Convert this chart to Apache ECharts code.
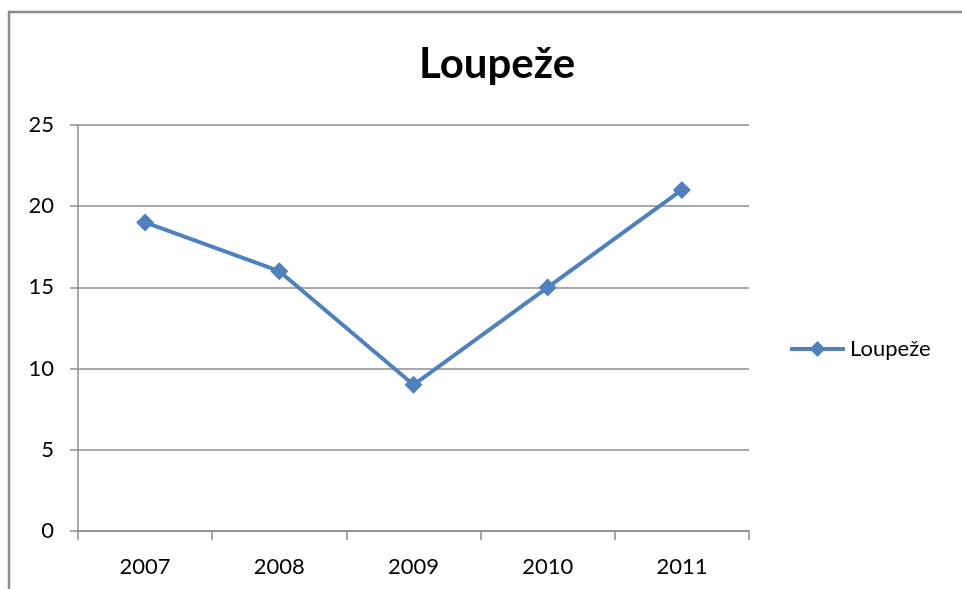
<!DOCTYPE html>
<html>
<head>
<meta charset="utf-8">
<script src="https://cdn.jsdelivr.net/npm/echarts@6/dist/echarts.min.js"></script>
<style>
  html, body { margin: 0; padding: 0; background: #fff; }
  #chart { width: 962px; height: 589px; }
</style>
</head>
<body>
<div id="chart"></div>
<script>
var categories = ['2007', '2008', '2009', '2010', '2011']
var loupezeValues = [19, 16, 9, 15, 21]
var seriesName = 'Loupeže'

var chart = echarts.init(document.getElementById('chart'))
var font = 'Lato, "Open Sans", sans-serif'
var option = {
  animation: false,
  backgroundColor: '#fff',
  graphic: [{
    type: 'rect',
    shape: { x: 9, y: 12, width: 1000, height: 700 },
    style: { fill: 'none', stroke: '#8c8c8c', lineWidth: 2.5 }
  }],
  title: {
    text: 'Loupeže',
    left: 492,
    top: 38,
    textAlign: 'center',
    textStyle: { fontFamily: font, fontWeight: 'bold', fontSize: 42, color: '#000' }
  },
  legend: {
    data: [seriesName],
    orient: 'vertical',
    left: 788,
    top: 338,
    padding: 0,
    itemWidth: 55,
    itemHeight: 20,
    itemGap: 6,
    lineStyle: { width: 4 },
    textStyle: { fontFamily: font, fontSize: 22, color: '#000' }
  },
  grid: { left: 78, right: 213, top: 125, bottom: 58 },
  xAxis: {
    type: 'category',
    data: categories,
    boundaryGap: true,
    axisLine: { lineStyle: { color: '#8c8c8c', width: 1.5 } },
    axisTick: { show: true, length: 9, lineStyle: { color: '#8c8c8c', width: 1.5 } },
    axisLabel: { margin: 25, fontFamily: font, fontSize: 22, color: '#000' }
  },
  yAxis: {
    type: 'value',
    min: 0,
    max: 25,
    interval: 5,
    axisLine: { show: true, lineStyle: { color: '#8c8c8c', width: 1.5 } },
    axisTick: { show: true, length: 8, lineStyle: { color: '#8c8c8c', width: 1.5 } },
    splitLine: { lineStyle: { color: '#8c8c8c', width: 1.5 } },
    axisLabel: { margin: 24, fontFamily: font, fontSize: 22, color: '#000' }
  },
  series: [{
    name: seriesName,
    type: 'line',
    data: loupezeValues,
    symbol: 'diamond',
    symbolSize: 18,
    lineStyle: { color: '#4f81bd', width: 4 },
    itemStyle: { color: '#4f81bd' }
  }]
}
chart.setOption(option)
</script>
</body>
</html>
